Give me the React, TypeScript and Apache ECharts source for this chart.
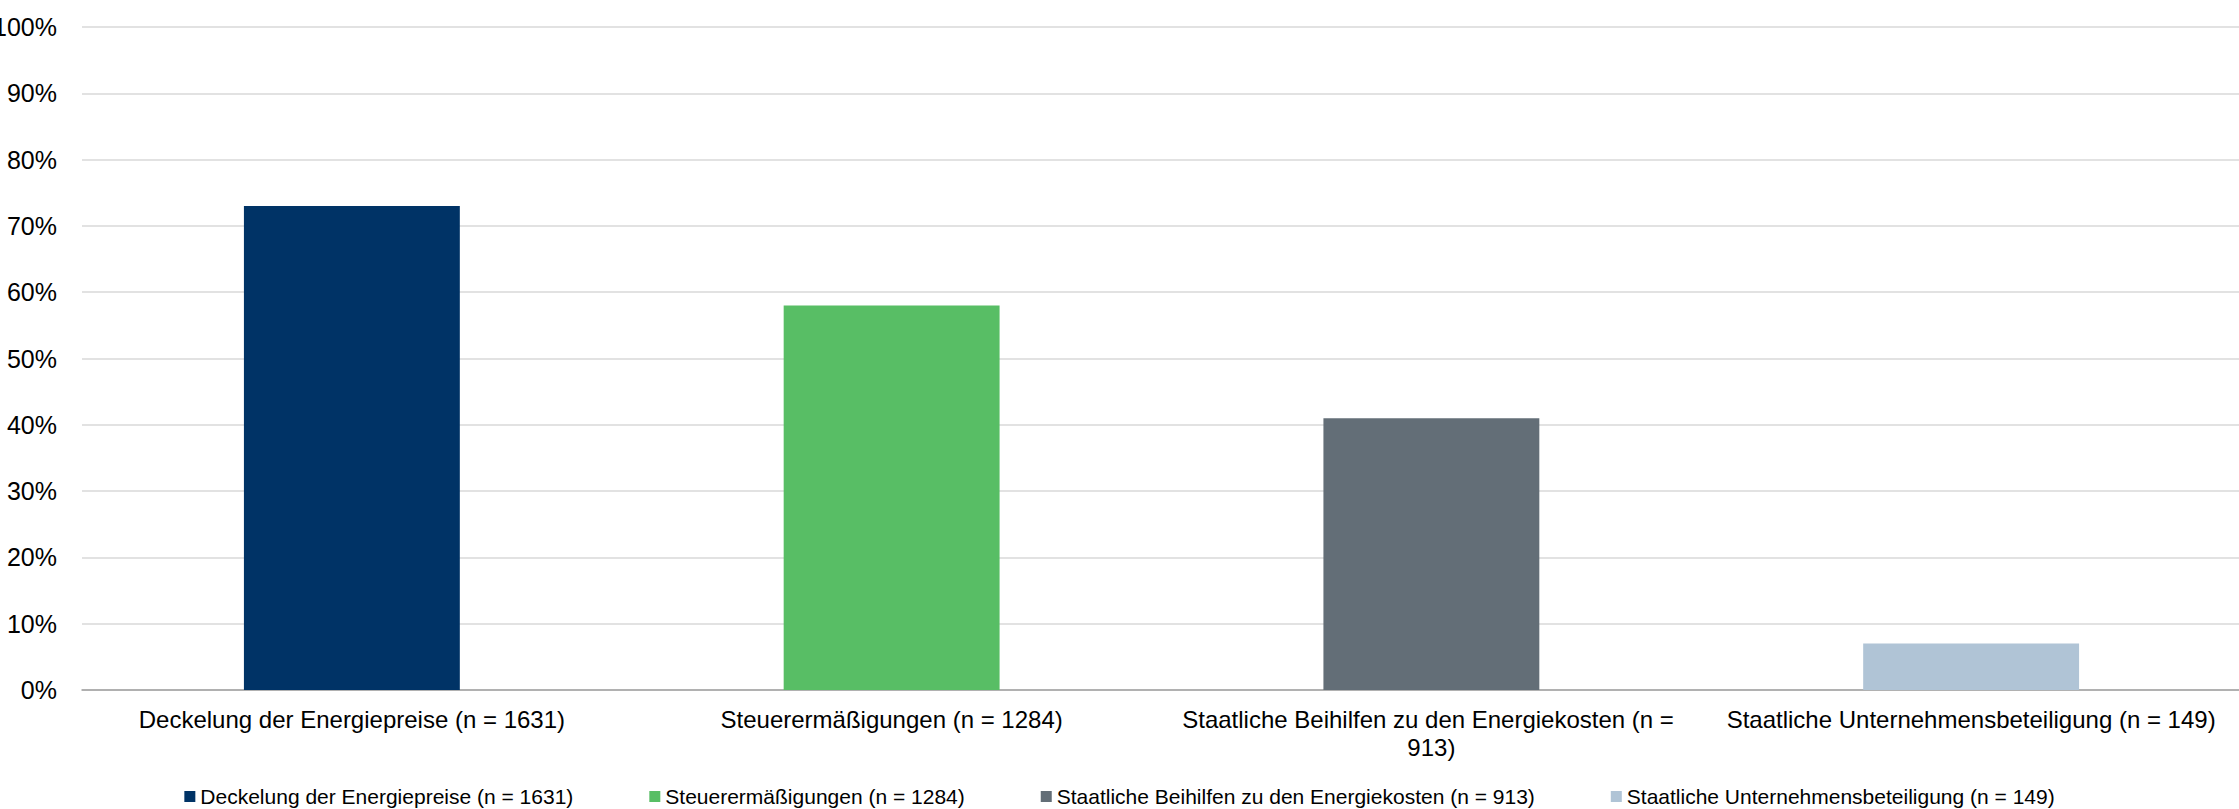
import React, { useEffect, useRef } from "react";
import * as echarts from "echarts";

const categories = [
  "Deckelung der Energiepreise (n = 1631)",
  "Steuerermäßigungen (n = 1284)",
  "Staatliche Beihilfen zu den Energiekosten (n = 913)",
  "Staatliche Unternehmensbeteiligung (n = 149)",
];
const values = [73, 58, 41, 7];
const yTicks = { min: 0, max: 100, interval: 10 };
const colors = ["#003366", "#58BE65", "#636E77", "#B0C4D6"];

const FONT = "'Liberation Sans', Arial, Helvetica, sans-serif";

export default function App() {
  const ref = useRef<HTMLDivElement>(null);
  useEffect(() => {
    if (!ref.current) return;
    const chart = echarts.init(ref.current, undefined, { renderer: "svg" });
    chart.setOption({
      animation: false,
      backgroundColor: "#ffffff",
      textStyle: { fontFamily: FONT },
      grid: {
        left: 82,
        right: -2,
        top: 27,
        bottom: 119,
        containLabel: false,
        outerBoundsMode: "none",
      },
      legend: {
        data: categories,
        left: "center",
        top: 781,
        itemWidth: 11,
        itemHeight: 11,
        itemGap: 76,
        icon: "rect",
        textStyle: { fontSize: 21, color: "#000000", fontFamily: FONT },
      },
      xAxis: {
        type: "category",
        data: categories,
        axisLine: { lineStyle: { color: "#A0A0A0", width: 1.5 } },
        axisTick: { show: false },
        axisLabel: {
          interval: 0,
          fontSize: 24,
          color: "#000000",
          fontFamily: FONT,
          width: 520,
          overflow: "break",
          lineHeight: 28,
          margin: 15,
        },
      },
      yAxis: {
        type: "value",
        min: yTicks.min,
        max: yTicks.max,
        interval: yTicks.interval,
        axisLine: { show: false },
        axisTick: { show: false },
        splitLine: { lineStyle: { color: "#D9D9D9", width: 1.5 } },
        axisLabel: {
          formatter: "{value}%",
          fontSize: 25,
          color: "#000000",
          fontFamily: FONT,
          margin: 25,
        },
      },
      series: categories.map((name, i) => ({
        name,
        type: "bar",
        stack: "all",
        barWidth: "40%",
        itemStyle: { color: colors[i] },
        data: values.map((v, j) => (j === i ? v : "-")),
      })),
    });
    return () => chart.dispose();
  }, []);
  return (
    <div
      ref={ref}
      style={{ position: "fixed", left: 0, top: 0, width: 2239, height: 809 }}
    />
  );
}
